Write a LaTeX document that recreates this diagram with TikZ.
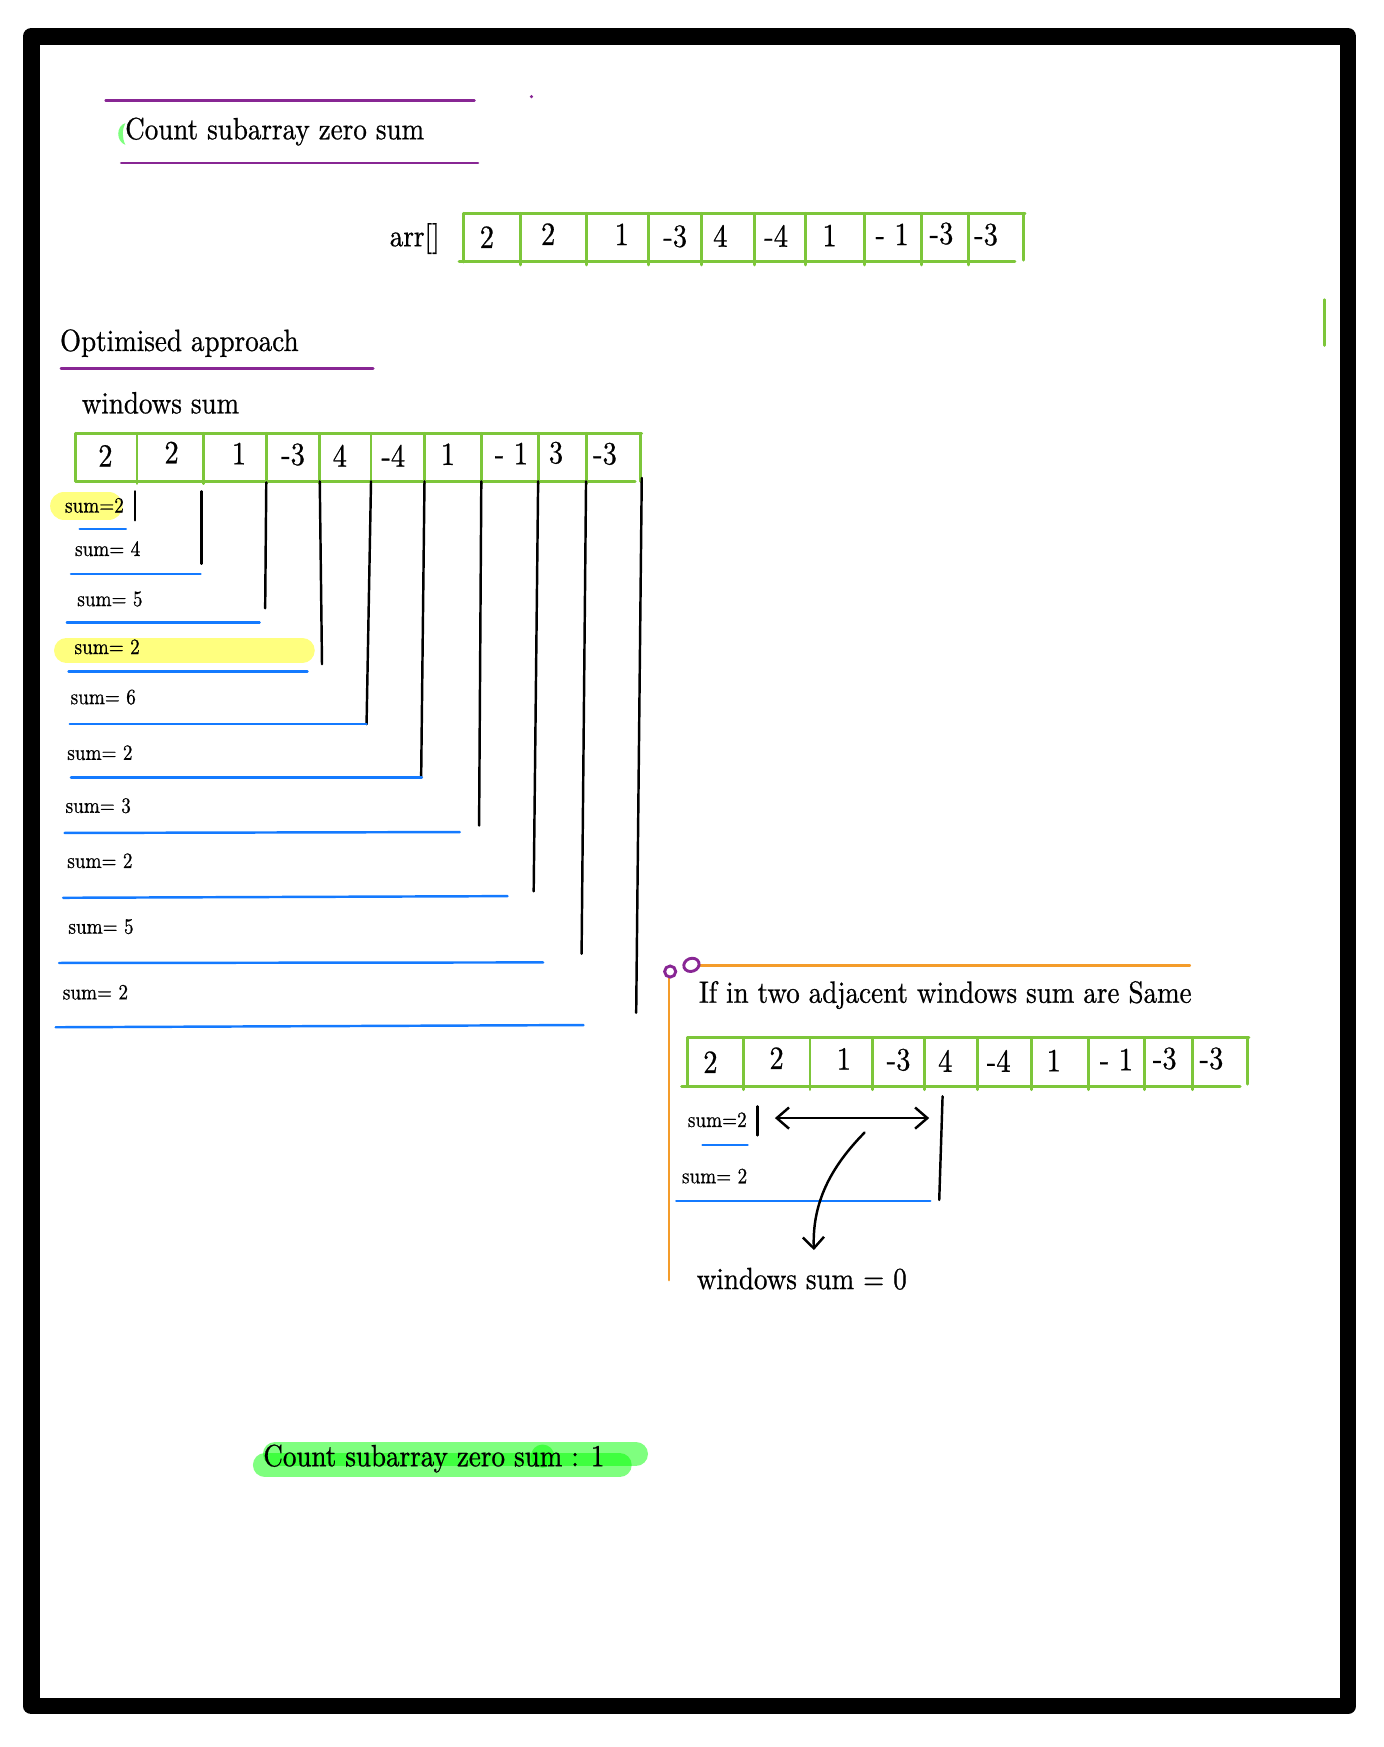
\documentclass[tikz,border=0pt]{standalone}
\usepackage{fontspec}
\setmainfont{lmroman10-regular.otf}[FakeStretch=0.88, FakeBold=0.7]
\usetikzlibrary{arrows.meta}

\definecolor{cellgreen}{RGB}{125,198,58}
\definecolor{inkpurple}{RGB}{136,38,148}
\definecolor{inkblue}{RGB}{20,122,255}
\definecolor{inkorange}{RGB}{244,156,42}
\definecolor{markgreen}{RGB}{0,255,0}
\definecolor{markyellow}{RGB}{255,255,0}

\tikzset{
  big/.style={font=\fontsize{13.8pt}{16pt}\selectfont, inner sep=0pt, anchor=base west},
  small/.style={font=\fontsize{9.8pt}{12pt}\selectfont, inner sep=0pt, anchor=base west},
  cell/.style={font=\fontsize{14.5pt}{16pt}\selectfont, inner sep=0pt, anchor=base},
  grid/.style={draw=cellgreen, line width=1.3pt, line cap=round},
  pen/.style={draw=black, line width=1.1pt, line cap=round},
  bluepen/.style={draw=inkblue, line width=1.1pt, line cap=round},
  purplepen/.style={draw=inkpurple, line width=1.2pt, line cap=round},
  orangepen/.style={draw=inkorange, line width=1.1pt, line cap=round},
  ymark/.style={draw=markyellow, draw opacity=0.5, line cap=round},
  gmark/.style={draw=markgreen, draw opacity=0.5, line cap=round},
  barb/.style={arrows={-Straight Barb[length=5pt,width=9.5pt]}},
  dbarb/.style={arrows={Straight Barb[length=5.5pt,width=9.5pt]-Straight Barb[length=5.5pt,width=9.5pt]}},
}

\begin{document}
\begin{tikzpicture}[x=0.5pt,y=-0.5pt]
\useasboundingbox (0,0) rectangle (1242,1568);

% frame
\draw[line width=7.5pt, line join=round] (28,32.5) rectangle (1209.8,1531.3);

% heading
\draw[purplepen] (94.8,90) -- (425.8,90);
\fill[inkpurple] (477,86.7) circle (1.6);
\fill[markgreen, opacity=0.5] (112.5,110.5) .. controls (104,113) and (104,127) .. (112.5,130)
      .. controls (109.5,124) and (109.5,116) .. cycle;
\node[big] (title) at (112,125) {Count subarray zero sum};
\draw[purplepen] (108.8,146.3) -- (429,146.3);

% input array
\node[big] (arrlbl) at (349.5,221) {arr[]};
\draw[grid] (416,191.4) -- (920,191.4);
\draw[grid] (412,235) -- (911,235);
\draw[grid] (416,191.4) -- (416,235);
\draw[grid] (919,191.4) -- (919,233.5);
\foreach \x in {467,526,582,630,677,723,776,827,869}
  \draw[grid] (\x,191.4) -- (\x,237.8);
\foreach \x/\y/\v [count=\i] in {437/222.5/2, 492/219.8/2, 558/220/1, 606/221.5/-3, 646.5/221.5/4,
    696.6/221.5/-4, 744.6/221/1, 800.8/220/- 1, 845/219/-3, 885/220/-3}
  \node[cell] (a\i) at (\x,\y) {\v};

\draw[draw=cellgreen, line width=1.3pt, line cap=round] (1189,269) -- (1189,310);

% optimised approach
\node[big] (opt) at (53.5,315) {Optimised approach};
\draw[purplepen] (54.7,331) -- (335,331);
\node[big] (wlbl) at (73,371) {windows sum};

\draw[grid] (68,389) -- (576,389);
\draw[grid] (68,432) -- (570,432);
\draw[grid] (68,389) -- (68,432);
\draw[grid] (575,389) -- (575,432);
\foreach \x in {123,183,239,287,333,381,432,483,526}
  \draw[grid] (\x,389) -- (\x,434);
\foreach \x/\y/\v [count=\i] in {94.6/418.8/2, 154/415.8/2, 214.5/416.7/1, 263/417.3/-3, 305/418.8/4,
    353/418.8/-4, 402/417.3/1, 459/416.7/- 1, 499/415.8/3, 543/416.7/-3}
  \node[cell] (w\i) at (\x,\y) {\v};

% highlighted window sums
\draw[ymark, line width=12.5pt] (57.5,454) -- (97.5,454);
\draw[ymark, line width=11pt] (59.5,583.8) -- (271.5,583.8);

% window ends
\draw[pen] (121,441) -- (121,467);
\draw[pen] (181,441) -- (181,506);
\draw[pen] (239,433) -- (238,546);
\draw[pen] (287,432) -- (289,596);
\draw[pen] (333,432) -- (329,650);
\draw[pen] (381,432) -- (378,698);
\draw[pen] (432,432) -- (430,741);
\draw[pen] (483,432) -- (479,800);
\draw[pen] (526,432) -- (522,856);
\draw[pen] (576,429) -- (571,909);

% window underlines
\draw[bluepen] (71.5,475) -- (113,475);
\draw[bluepen] (63.7,515) -- (180,515);
\draw[bluepen] (60,558.7) -- (233,558.7);
\draw[bluepen] (61.5,602.7) -- (276,602.7);
\draw[bluepen] (62.6,649.8) -- (329,649.8);
\draw[bluepen] (63.7,697.8) -- (378.6,697.8);
\draw[bluepen] (58,747.6) -- (412.7,746.8);
\draw[bluepen] (56.6,805.8) -- (455.6,804.3);
\draw[bluepen] (53,864.3) -- (487.5,863.8);
\draw[bluepen] (50,922) -- (523.7,920);

% running sums
\foreach \x/\y/\v [count=\i] in {58/460/{sum=2}, 67/499/{sum= 4}, 69/544/{sum= 5}, 66.5/587/{sum= 2},
    63/632/{sum= 6}, 60/682/{sum= 2}, 58.5/729.5/{sum= 3}, 60/779/{sum= 2}, 61/838/{sum= 5}, 56/897/{sum= 2}}
  \node[small] (s\i) at (\x,\y) {\v};

% adjacent windows note
\draw[orangepen] (627,866.5) -- (1068,866.5);
\draw[orangepen] (600.5,877) -- (600.5,1149);
\draw[draw=inkpurple, line width=1.3pt] (601.5,872) circle (5);
\draw[draw=inkpurple, line width=1.3pt, rotate around={20:(620.6,866)}] (620.6,866) ellipse (7 and 5.8);
\node[big] (cond) at (627,900) {If in two adjacent windows sum are Same};

\draw[grid] (617,931.4) -- (1121,931.4);
\draw[grid] (611.7,975) -- (1113,975);
\draw[grid] (617,931.4) -- (617,975);
\draw[grid] (1120,931.4) -- (1120,973);
\foreach \x in {667,727,783,830,877,926,977,1027,1070}
  \draw[grid] (\x,931.4) -- (\x,978);
\foreach \x/\y/\v [count=\i] in {637.6/963/2, 697/959.4/2, 757.4/960/1, 806.5/960.6/-3, 848.4/962/4,
    896.4/962/-4, 945.8/961.5/1, 1002/960.6/- 1, 1045.4/959.4/-3, 1087.3/959.4/-3}
  \node[cell] (c\i) at (\x,\y) {\v};

\node[small] (r1) at (617,1011.5) {sum=2};
\node[small] (r2) at (611.7,1062) {sum= 2};
\draw[pen] (680,993) -- (680,1019);
\draw[pen] (846,984) -- (843,1077);
\draw[bluepen] (630.5,1027.5) -- (671,1027.5);
\draw[bluepen] (607,1078) -- (835,1078);

\coordinate (dl) at (695.5,1003.5);
\coordinate (dr) at (834,1003.5);
\draw[pen, dbarb] (dl) -- (dr);

\node[big] (wz) at (625,1157) {windows sum = 0};
\coordinate (cs) at (776,1016.5);
\coordinate (ce) at (730.5,1122);
\draw[pen, barb] (cs) .. controls (745,1048) and (729,1080) .. (ce);

% result
\draw[gmark, line width=10.8pt] (237.8,1315) -- (556.2,1315);
\draw[gmark, line width=11pt] (247,1305) -- (570.6,1305);
\fill[markgreen, opacity=0.5] (487,1307) circle (10.5);
\node[big] (total) at (236,1316) {Count subarray zero sum : 1};
\end{tikzpicture}
\end{document}
